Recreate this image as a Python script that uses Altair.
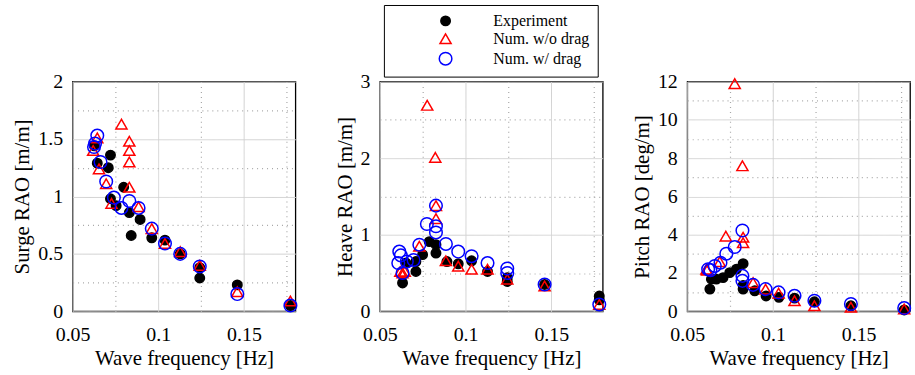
import altair as alt
import pandas as pd

SERIES = ["Experiment", "Num. w/o drag", "Num. w/ drag"]

# ---- Surge RAO [m/m] ----
surge_exp_f = [0.0627, 0.0644, 0.0708, 0.0721, 0.0721, 0.0754, 0.0798, 0.0831, 0.0842,
               0.0894, 0.0962, 0.1039, 0.1128, 0.1242, 0.1242, 0.1461, 0.1771]
surge_exp_v = [1.44, 1.29, 1.25, 1.36, 0.98, 0.92, 1.08, 0.86, 0.66,
               0.80, 0.64, 0.62, 0.50, 0.29, 0.38, 0.23, 0.05]
surge_nod_f = [0.0620, 0.0644, 0.0654, 0.0696, 0.0727, 0.0785, 0.0831, 0.0831, 0.0831,
               0.0831, 0.0885, 0.0962, 0.1039, 0.1128, 0.1242, 0.1461, 0.1771]
surge_nod_v = [1.40, 1.51, 1.24, 1.11, 0.94, 1.63, 1.48, 1.40, 1.30,
               1.08, 0.91, 0.72, 0.59, 0.52, 0.40, 0.17, 0.09]
surge_drg_f = [0.0625, 0.0631, 0.0644, 0.0663, 0.0696, 0.0741, 0.0785, 0.0831, 0.0885,
               0.0962, 0.1039, 0.1128, 0.1242, 0.1461, 0.1771]
surge_drg_v = [1.43, 1.46, 1.53, 1.30, 1.13, 0.99, 0.90, 0.96, 0.90,
               0.72, 0.59, 0.50, 0.39, 0.15, 0.05]

# ---- Heave RAO [m/m] ----
heave_exp_f = [0.0632, 0.0652, 0.0710, 0.0710, 0.0749, 0.0788, 0.0827, 0.0827, 0.0891,
               0.0957, 0.1035, 0.1128, 0.1243, 0.1243, 0.1461, 0.1780, 0.1780]
heave_exp_v = [0.37, 0.63, 0.65, 0.52, 0.74, 0.91, 0.87, 0.76, 0.65,
               0.62, 0.66, 0.52, 0.39, 0.44, 0.35, 0.20, 0.15]
heave_nod_f = [0.0619, 0.0632, 0.0645, 0.0730, 0.0776, 0.0823, 0.0827, 0.0827, 0.0885,
               0.0957, 0.1035, 0.1128, 0.1243, 0.1461, 0.1780]
heave_nod_v = [0.52, 0.50, 0.52, 0.85, 2.69, 2.01, 1.38, 1.21, 0.66,
               0.59, 0.55, 0.55, 0.42, 0.33, 0.09]
heave_drg_f = [0.0607, 0.0613, 0.0622, 0.0632, 0.0657, 0.0696, 0.0730, 0.0774, 0.0827,
               0.0827, 0.0827, 0.0885, 0.0957, 0.1035, 0.1128, 0.1243, 0.1243, 0.1461, 0.1780]
heave_drg_v = [0.63, 0.78, 0.73, 0.50, 0.65, 0.67, 0.87, 1.14, 1.38,
               1.11, 1.03, 0.88, 0.78, 0.72, 0.63, 0.56, 0.50, 0.35, 0.09]

# ---- Pitch RAO [deg/m] ----
pitch_exp_f = [0.0632, 0.0641, 0.0670, 0.0709, 0.0748, 0.0787, 0.0826, 0.0826, 0.0826,
               0.0894, 0.0960, 0.1035, 0.1126, 0.1242, 0.1455, 0.1766]
pitch_exp_v = [1.16, 1.68, 1.68, 1.76, 2.02, 2.20, 2.49, 1.16, 1.35,
               1.07, 0.80, 0.73, 0.69, 0.50, 0.29, 0.07]
pitch_nod_f = [0.0612, 0.0616, 0.0690, 0.0725, 0.0777, 0.0822, 0.0826, 0.0826, 0.0884,
               0.0957, 0.1033, 0.1126, 0.1242, 0.1455, 0.1766]
pitch_nod_v = [2.20, 2.15, 2.59, 3.93, 11.89, 7.60, 3.87, 3.58, 1.50,
               1.16, 0.95, 0.55, 0.29, 0.21, 0.12]
pitch_drg_f = [0.0622, 0.0635, 0.0661, 0.0694, 0.0728, 0.0777, 0.0822, 0.0822, 0.0822,
               0.0884, 0.0957, 0.1033, 0.1126, 0.1242, 0.1455, 0.1766]
pitch_drg_v = [2.20, 2.15, 2.37, 2.54, 3.01, 3.36, 4.22, 1.85, 1.59,
               1.38, 1.16, 0.99, 0.81, 0.55, 0.38, 0.17]

X_MAJOR = [0.05, 0.1, 0.15]
X_MINOR = [0.075, 0.125, 0.175]

PANELS = [
    ("surge", "Surge RAO [m/m]", 2, [0, 0.5, 1, 1.5, 2], [0.25, 0.75, 1.25, 1.75],
     [(surge_exp_f, surge_exp_v), (surge_nod_f, surge_nod_v), (surge_drg_f, surge_drg_v)]),
    ("heave", "Heave RAO [m/m]", 3, [0, 1, 2, 3], [0.5, 1.5, 2.5],
     [(heave_exp_f, heave_exp_v), (heave_nod_f, heave_nod_v), (heave_drg_f, heave_drg_v)]),
    ("pitch", "Pitch RAO [deg/m]", 12, [0, 2, 4, 6, 8, 10, 12], [1, 3, 5, 7, 9, 11],
     [(pitch_exp_f, pitch_exp_v), (pitch_nod_f, pitch_nod_v), (pitch_drg_f, pitch_drg_v)]),
]

rows = []
for key, _, _, _, _, groups in PANELS:
    for name, (fs, vs) in zip(SERIES, groups):
        for f, v in zip(fs, vs):
            rows.append({"panel": key, "series": name, "freq": f, "value": v})
df = pd.DataFrame(rows)

FONT = "Liberation Serif"


def grid_props(minor):
    # dotted grid on minor values, solid light grid on major values
    test = "indexof(%s, datum.value) >= 0" % str(minor)
    return dict(
        gridDash={"condition": {"test": test, "value": [1, 4]}, "value": [1, 0]},
        gridColor={"condition": {"test": test, "value": "#a8a8a8"}, "value": "#d2d2d2"},
        gridWidth={"condition": {"test": test, "value": 1.2}, "value": 1},
    )


def label_expr(major):
    return "indexof(%s, datum.value) >= 0 ? format(datum.value, '~g') : ''" % str(major)


legend = alt.Legend(title=None)
charts = []
for key, ytitle, ymax, ymajor, yminor, _ in PANELS:
    x_axis = alt.Axis(values=X_MAJOR + X_MINOR, labelExpr=label_expr(X_MAJOR),
                      title="Wave frequency [Hz]", **grid_props(X_MINOR))
    y_axis = alt.Axis(values=ymajor + yminor, labelExpr=label_expr(ymajor),
                      title=ytitle, **grid_props(yminor))
    c = (
        alt.Chart(df)
        .transform_filter(alt.datum.panel == key)
        .mark_point(strokeWidth=1.5, opacity=1)
        .encode(
            x=alt.X("freq:Q", scale=alt.Scale(domain=[0.05, 0.18], nice=False, zero=False),
                    axis=x_axis),
            y=alt.Y("value:Q", scale=alt.Scale(domain=[0, ymax], nice=False), axis=y_axis),
            shape=alt.Shape("series:N", scale=alt.Scale(domain=SERIES,
                            range=["circle", "triangle-up", "circle"]), legend=legend),
            stroke=alt.Stroke("series:N", scale=alt.Scale(domain=SERIES,
                              range=["#000000", "#ff0000", "#0000ff"]), legend=legend),
            fill=alt.Fill("series:N", scale=alt.Scale(domain=SERIES,
                          range=["#000000", "transparent", "transparent"]), legend=legend),
            size=alt.Size("series:N", scale=alt.Scale(domain=SERIES, range=[90, 160, 100]),
                          legend=legend),
        )
        .properties(width=224, height=231)
    )
    charts.append(c)

chart = (
    alt.hconcat(*charts, spacing=85)
    .properties(bounds="flush", padding={"left": 11, "top": 3, "right": 0, "bottom": 2})
    .configure(font=FONT)
    .configure_view(stroke="#000000", strokeWidth=1.3)
    .configure_axis(
        labelFont=FONT, titleFont=FONT, labelFontSize=20, titleFontSize=21,
        titleFontWeight="normal", labelColor="#000000", titleColor="#000000",
        domain=False, ticks=False, labelFlush=False, labelOverlap=False,
    )
    .configure_axisX(labelPadding=13, titlePadding=3)
    .configure_axisY(labelPadding=10, titlePadding=5)
    .configure_legend(
        orient="none", legendX=313, legendY=-77, strokeColor="#000000", fillColor="#ffffff",
        padding=8, symbolOffset=46, labelOffset=40, labelFont=FONT, labelFontSize=16,
        labelColor="#000000", rowPadding=2, symbolStrokeWidth=1.5, labelLimit=300,
    )
)

chart.save("out.html", embed_options={"renderer": "svg", "actions": False})
